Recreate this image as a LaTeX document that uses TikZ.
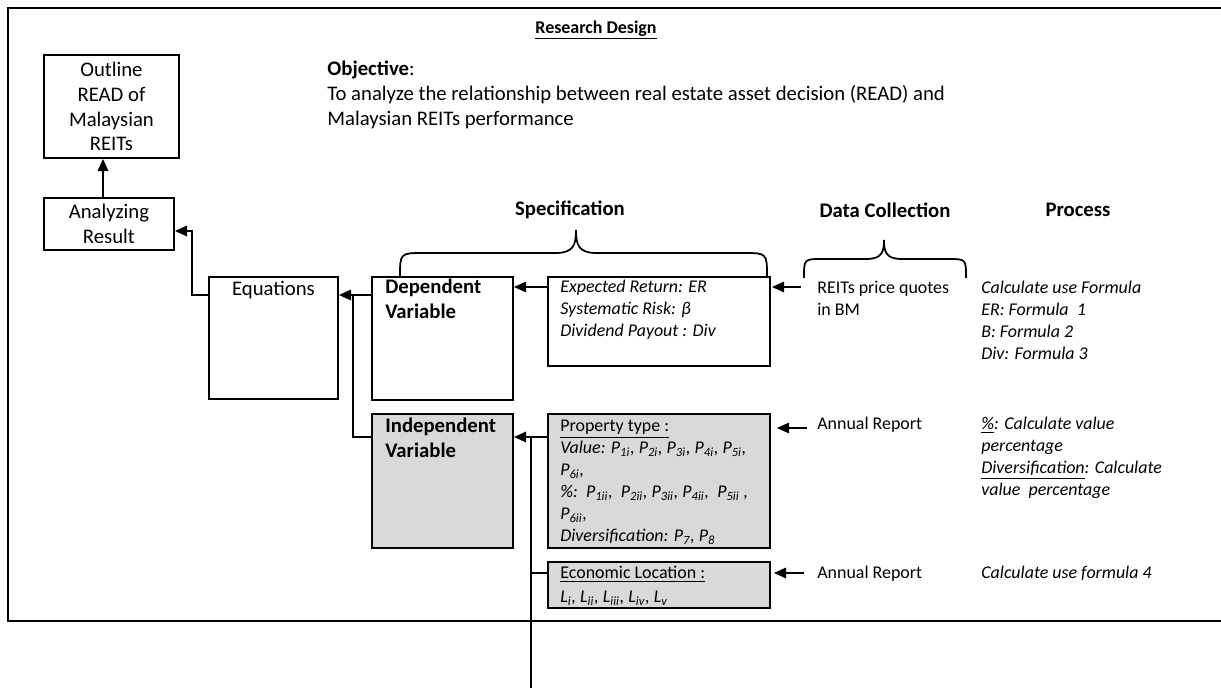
\documentclass[tikz,border=0pt]{standalone}
\usepackage{fontspec}
\setmainfont{Carlito}
\usepackage{xcolor}
\usepackage{tikz}
\usetikzlibrary{arrows.meta}

\definecolor{boxgray}{HTML}{D9D9D9}
\newcommand{\tablefont}{\fontsize{10.2}{12.5}\selectfont}
\newcommand{\bigfont}{\fontsize{11.8}{14.2}\selectfont}
% stacked lines, baseline on the first line
\newcommand{\lines}[1]{\begin{tabular}[t]{@{}l@{}}#1\end{tabular}}

\begin{document}
\begin{tikzpicture}[x=0.02cm, y=-0.02cm,
  every node/.style={font=\tablefont, inner sep=0pt},
  box/.style={draw, line width=1.1pt, anchor=north west},
  greybox/.style={box, fill=boxgray},
  txt/.style={anchor=base west},
  head/.style={font=\bigfont\bfseries},
  arrow/.style={-{Triangle[length=7pt,width=6pt]}, line width=1.1pt},
  conn/.style={line width=1.1pt},
  thinline/.style={line width=0.7pt},
  brace/.style={line width=1pt}]

  \useasboundingbox (0,0) rectangle (1221,688);

  % Outer frame (runs on past the right edge)
  \draw[line width=1.6pt] (1240,8) -- (8,8) -- (8,621) -- (1240,621);

  % Title and objective
  \node[font=\tablefont\bfseries] (title) at (596,30) {\underline{Research Design}};
  \node[txt, font=\bigfont] (obj) at (327,76)
    {\lines{\textbf{Objective}:\\
     To analyze the relationship between real estate asset decision (READ) and\\
     Malaysian REITs performance}};

  % Left column
  \node[box, minimum width=2.7cm, minimum height=2.06cm, align=center, font=\bigfont]
    (outline) at (43,54) {Outline\\READ of\\Malaysian\\REITs};
  \node[box, minimum width=2.6cm, minimum height=1.04cm, align=center, font=\bigfont]
    (ana) at (43,197) {Analyzing\\Result};
  \node[box, minimum width=2.58cm, minimum height=2.44cm] (eq) at (208,276) {};
  \node[font=\bigfont, anchor=base] (eqtxt) at ([shift={(0,20)}]eq.north) {Equations};

  % Variables
  \node[box, minimum width=2.82cm, minimum height=2.46cm] (dep) at (371,276) {};
  \node[txt, font=\bigfont\bfseries] (deptxt) at ([shift={(14,18)}]dep.north west)
    {\lines{Dependent\\Variable}};
  \node[greybox, minimum width=2.82cm, minimum height=2.68cm] (ind) at (371,413) {};
  \node[txt, font=\bigfont\bfseries] (indtxt) at ([shift={(14,20)}]ind.north west)
    {\lines{Independent\\Variable}};

  % Specification boxes
  \node[box, minimum width=4.44cm, minimum height=1.78cm] (spec) at (547,276) {};
  \node[txt, font=\tablefont\itshape] (spectxt) at ([shift={(13,17)}]spec.north west)
    {\lines{Expected Return: ER\\
     Systematic Risk: β\\
     Dividend Payout : Div}};
  \node[greybox, minimum width=4.44cm, minimum height=2.68cm] (prop) at (547,413) {};
  \node[txt] (proptxt) at ([shift={(13,19)}]prop.north west)
    {\lines{\underline{Property type :}\\
     \itshape Value: P\textsubscript{1i}, P\textsubscript{2i}, P\textsubscript{3i}, P\textsubscript{4i}, P\textsubscript{5i},\\
     \itshape P\textsubscript{6i},\\
     \itshape \%:\ \ P\textsubscript{1ii},\ \ P\textsubscript{2ii}, P\textsubscript{3ii}, P\textsubscript{4ii},\ \ P\textsubscript{5ii} ,\\
     \itshape P\textsubscript{6ii},\\
     \itshape Diversification: P\textsubscript{7}, P\textsubscript{8}}};
  \node[greybox, minimum width=4.44cm, minimum height=0.92cm] (econ) at (547,561) {};
  \node[txt] (econtxt) at ([shift={(13,18)}]econ.north west)
    {\lines{\underline{Economic Location :}\\[1pt]
     \itshape L\textsubscript{i}, L\textsubscript{ii}, L\textsubscript{iii}, L\textsubscript{iv}, L\textsubscript{v}}};

  % Column headings
  \node[head] (spechead) at (570,210) {Specification};
  \node[head] (datahead) at (885,210) {Data Collection};
  \node[head] (prochead) at (1078,210) {Process};

  % Data collection
  \node[txt] (quotes) at (817,294) {\lines{REITs price quotes\\in BM}};
  \node[txt] (annual1) at (817,430) {Annual Report};
  \node[txt] (annual2) at (817,579) {Annual Report};

  % Process
  \node[txt, font=\tablefont\itshape] (proc1) at (981,294)
    {\lines{Calculate use Formula\\ER: Formula\ \ 1\\B: Formula 2\\Div: Formula 3}};
  \node[txt, font=\tablefont\itshape] (proc2) at (981,430)
    {\lines{\underline{\%}: Calculate value\\percentage\\\underline{Diversification}: Calculate\\value\ \ percentage}};
  \node[txt, font=\tablefont\itshape] (proc3) at (981,579) {Calculate use formula 4};

  % Braces
  \draw[brace] (400,277) .. controls (400,253) .. (424,253) -- (556,253)
    .. controls (574,253) and (576,244) .. (576,230)
    .. controls (576,244) and (578,253) .. (596,253) -- (743,253)
    .. controls (767,253) .. (767,277);
  \draw[brace] (804,278) .. controls (804,259) .. (822,259) -- (866,259)
    .. controls (882,259) and (884,252) .. (884,240)
    .. controls (884,252) and (886,259) .. (902,259) -- (948,259)
    .. controls (966,259) .. (966,278);

  % Connectors
  \draw[arrow] (ana.north -| 103,0) -- (outline.south -| 103,0);
  \draw[arrow] ([shift={(0,19)}]eq.north west) -- ++(-16,0) |- ([shift={(0,34)}]ana.north east);
  \draw[arrow] ([shift={(0,19)}]dep.north west) -- ([shift={(0,19)}]eq.north east);
  \draw[thinline] ([shift={(0,24)}]ind.north west) -- ++(-18,0) -- ++(0,-141);
  \draw[arrow] ([shift={(0,11)}]spec.north west) -- ([shift={(0,11)}]dep.north east);
  \draw[arrow] ([shift={(0,24)}]prop.north west) -- ([shift={(0,24)}]ind.north east);

  \coordinate (vtop) at ([shift={(17,24)}]ind.north east);
  \coordinate (vbot) at (vtop |- 0,690);
  \coordinate (ebr) at ([shift={(0,12)}]econ.north west);
  \draw[thinline] (vtop) -- (vbot);
  \draw[thinline] (ebr) -- (vtop |- ebr);

  \draw[arrow] ([shift={(30,11)}]spec.north east) -- ([shift={(1,11)}]spec.north east);
  \draw[arrow] ([shift={(36,15)}]prop.north east) -- ([shift={(6,15)}]prop.north east);
  \draw[arrow] ([shift={(33,12)}]econ.north east) -- ([shift={(3,12)}]econ.north east);
\end{tikzpicture}
\end{document}
